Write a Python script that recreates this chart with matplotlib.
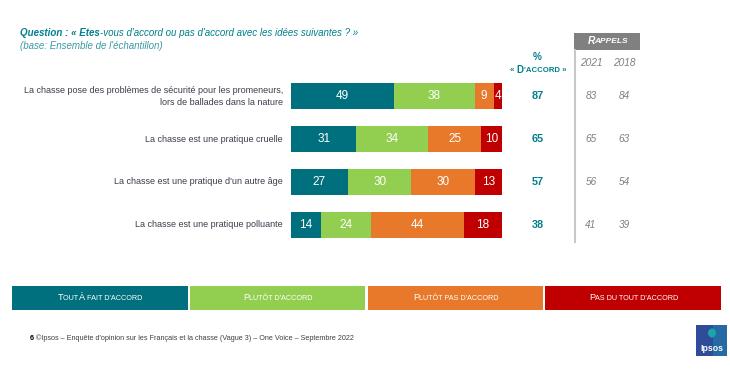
import matplotlib
matplotlib.use("Agg")
import matplotlib.pyplot as plt
from matplotlib.patches import Rectangle, Ellipse

# Data
items = ["La chasse pose des problèmes de sécurité pour les promeneurs,\nlors de ballades dans la nature",
         "La chasse est une pratique cruelle",
         "La chasse est une pratique d'un autre âge",
         "La chasse est une pratique polluante"]
tout_a_fait = [49, 31, 27, 14]
plutot = [38, 34, 30, 24]
plutot_pas = [9, 25, 30, 44]
pas_du_tout = [4, 10, 13, 18]
pct_accord = [87, 65, 57, 38]
rappel_years = ["2021", "2018"]
rappel_2021 = [83, 65, 56, 41]
rappel_2018 = [84, 63, 54, 39]
legend_labels = ["Tout À fait d'accord", "Plutôt d'accord", "Plutôt pas d'accord", "Pas du tout d'accord"]

colors = ["#00707E", "#92CF50", "#E8792A", "#C00000"]
teal = "#00808C"
grey = "#7F7F7F"
text_col = "#3C3C4C"
FONT = "Liberation Sans"

W, H = 730, 380
fig = plt.figure(figsize=(W / 100, H / 100), dpi=100)
fig.patch.set_facecolor("white")

# Bars
ax = fig.add_axes([291 / W, 1 - 246 / H, 211 / W, 171 / H])
ypos = range(len(items))
left = [0] * len(items)
for vals, c in zip([tout_a_fait, plutot, plutot_pas, pas_du_tout], colors):
    bars = ax.barh(ypos, vals, left=left, height=0.61, color=c)
    ax.bar_label(bars, labels=[str(v) for v in vals], label_type="center",
                 color="white", fontsize=8.5, family=FONT)
    left = [l + v for l, v in zip(left, vals)]
ax.set_xlim(0, 100)
ax.set_ylim(len(items) - 0.5, -0.5)
ax.axis("off")

# Legend boxes
lax = fig.add_axes([11 / W, 1 - 310 / H, 711 / W, 24 / H])
lax.bar(range(4), [1] * 4, width=0.988, color=colors)
lax.set_xlim(-0.5, 3.5)
lax.set_ylim(0, 1)
lax.axis("off")

# overlay axes in pixel coordinates for text, on top of everything
ov = fig.add_axes([0, 0, 1, 1], zorder=10)
ov.set_xlim(0, W)
ov.set_ylim(H, 0)
ov.axis("off")
renderer = fig.canvas.get_renderer()


def runs_text(x, y, runs, ha="left", color="black", kern=0, **kw):
    # draw a sequence of (text, size) runs side by side, used for small caps
    texts = []
    for s, size in runs:
        t = ov.text(0, y, s, fontsize=size, color=color, va="center", ha="left",
                    family=FONT, **kw)
        texts.append(t)
    widths = [t.get_window_extent(renderer).width - kern for t in texts]
    total = sum(widths)
    start = x if ha == "left" else x - total / 2 if ha == "center" else x - total
    for t, w in zip(texts, widths):
        t.set_x(start)
        start += w
    return start


def small_caps(x, y, text, big, small, ha="center", color="black", **kw):
    runs = []
    for ch in text:
        if ch.isupper():
            seg, size = ch, big
        else:
            seg, size = ch.upper(), small
        if runs and runs[-1][1] == size:
            runs[-1] = (runs[-1][0] + seg, size)
        else:
            runs.append((seg, size))
    runs_text(x, y, runs, ha=ha, color=color, **kw)


# Title
x1 = runs_text(20, 33, [("Question : « Etes", 7.0)], color=teal, style="italic", weight="bold")
ov.text(x1, 33, "-vous d'accord ou pas d'accord avec les idées suivantes ? »", fontsize=7.0,
        color=teal, style="italic", va="center", family=FONT)
ov.text(20, 46, "(base: Ensemble de l'échantillon)", fontsize=7.0, color="#3A9AA3",
        style="italic", va="center", family=FONT)

# Item labels, % d'accord and rappels
row_y = [H - ax.transData.transform((0, i))[1] for i in ypos]
for i, lab in enumerate(items):
    ov.text(283, row_y[i], lab, ha="right", va="center", fontsize=6.5, color=text_col,
            family=FONT, linespacing=1.45, multialignment="right")
    ov.text(538, row_y[i], str(pct_accord[i]), ha="center", va="center", fontsize=7.8,
            color=teal, weight="bold", family=FONT)
    ov.text(591, row_y[i], str(rappel_2021[i]), ha="center", va="center", fontsize=7.2,
            color=grey, style="italic", family=FONT)
    ov.text(624, row_y[i], str(rappel_2018[i]), ha="center", va="center", fontsize=7.2,
            color=grey, style="italic", family=FONT)

ov.text(537, 57, "%", ha="center", va="center", fontsize=7.2, color=teal, weight="bold", family=FONT)
small_caps(538, 70, "« D'accord »", 7, 5.6, color=teal, weight="bold")

# Rappels header
ov.add_patch(Rectangle((574, 33), 66, 17, color="#808080", lw=0))
small_caps(607, 41.5, "Rappels", 7.4, 6.0, color="white", weight="bold", style="italic", kern=1.5)
ov.plot([574.5, 574.5], [50, 242], color="#C8C8C8", lw=1.5)
ov.text(591, 63, rappel_years[0], ha="center", va="center", fontsize=7.3, color=grey,
        style="italic", family=FONT)
ov.text(624, 63, rappel_years[1], ha="center", va="center", fontsize=7.3, color=grey,
        style="italic", family=FONT)

# Legend labels
for i, lab in enumerate(legend_labels):
    cx = 11 + 711 * (i + 0.5) / 4
    small_caps(cx, 298, lab, 6.6, 5.2, color="white", kern=0.5)

# Footer
ov.text(30, 338, "6", ha="left", va="center", fontsize=5.2, color="black", weight="bold", family=FONT)
ov.text(36, 338, "©Ipsos – Enquête d'opinion sur les Français et la chasse (Vague 3) – One Voice – Septembre 2022",
        ha="left", va="center", fontsize=5.2, color="#404040", family=FONT)

# Ipsos logo
ov.add_patch(Rectangle((696, 325), 31, 31, color="#2E4C9A", lw=0))
ov.add_patch(Rectangle((713, 325), 14, 31, color="#1F7FA8", lw=0, alpha=0.6))
ov.add_patch(Ellipse((712, 333), 8, 9, color="#1AA6A8", lw=0))
ov.text(711.5, 348.5, "Ipsos", ha="center", va="center", fontsize=6.3, color="white",
        weight="bold", family=FONT)

fig.savefig("out.png", dpi=100)
